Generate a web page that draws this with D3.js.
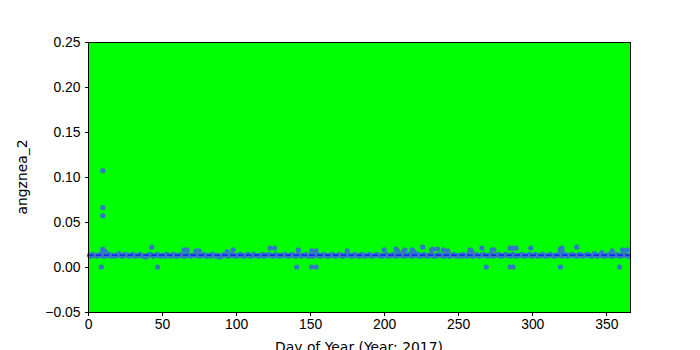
<!DOCTYPE html>
<head>
<meta charset="utf-8">
</head>
<style>
  body { margin: 0; background: #fff; }
  svg { display: block; font-family: "DejaVu Sans", sans-serif; }
  .axis path, .axis line { stroke: #000; shape-rendering: crispEdges; }
  .axis text { font-size: 13.9px; fill: #000; }
  .label { font-size: 13.9px; fill: #000; }
</style>
<body>
<script src="https://d3js.org/d3.v7.min.js"></script>
<script>

// daily values, index 0 = day 1 ... index 364 = day 365
var dailyValues = [
  0.013,0.012,0.014,0.013,0.013,0.012,0.013,0.014,0.013,0.013,
  0.012,0.013,0.013,0.014,0.012,0.013,0.013,0.012,0.013,0.013,
  0.015,0.013,0.012,0.013,0.014,0.013,0.013,0.012,0.013,0.014,
  0.013,0.012,0.013,0.013,0.014,0.013,0.012,0.012,0.011,0.013,
  0.013,0.014,0.013,0.012,0.013,0.013,0.014,0.013,0.012,0.013,
  0.013,0.012,0.014,0.013,0.013,0.012,0.013,0.014,0.013,0.012,
  0.013,0.013,0.014,0.013,0.012,0.013,0.014,0.013,0.012,0.013,
  0.013,0.014,0.013,0.013,0.012,0.013,0.013,0.014,0.013,0.012,
  0.013,0.013,0.012,0.014,0.013,0.013,0.012,0.013,0.011,0.012,
  0.013,0.014,0.013,0.013,0.012,0.013,0.014,0.013,0.013,0.012,
  0.013,0.013,0.014,0.013,0.012,0.013,0.013,0.014,0.013,0.012,
  0.013,0.014,0.013,0.013,0.012,0.013,0.013,0.014,0.012,0.013,
  0.013,0.014,0.013,0.013,0.012,0.013,0.014,0.013,0.012,0.013,
  0.013,0.013,0.014,0.013,0.012,0.013,0.013,0.014,0.013,0.012,
  0.013,0.014,0.013,0.012,0.013,0.013,0.014,0.013,0.012,0.013,
  0.013,0.012,0.013,0.014,0.013,0.013,0.012,0.013,0.014,0.013,
  0.013,0.012,0.013,0.013,0.014,0.013,0.012,0.013,0.013,0.014,
  0.013,0.012,0.013,0.013,0.014,0.013,0.013,0.012,0.013,0.014,
  0.013,0.013,0.012,0.013,0.014,0.013,0.012,0.013,0.013,0.014,
  0.013,0.012,0.013,0.013,0.014,0.013,0.013,0.012,0.013,0.013,
  0.014,0.013,0.012,0.013,0.013,0.014,0.013,0.012,0.013,0.015,
  0.013,0.014,0.013,0.012,0.013,0.013,0.014,0.013,0.012,0.013,
  0.015,0.013,0.014,0.012,0.013,0.013,0.014,0.013,0.012,0.013,
  0.013,0.014,0.013,0.012,0.013,0.013,0.014,0.013,0.013,0.012,
  0.013,0.014,0.013,0.012,0.013,0.013,0.014,0.013,0.012,0.013,
  0.013,0.012,0.014,0.013,0.013,0.012,0.014,0.013,0.013,0.012,
  0.013,0.014,0.013,0.012,0.013,0.013,0.014,0.013,0.013,0.012,
  0.013,0.014,0.013,0.012,0.013,0.013,0.014,0.013,0.012,0.013,
  0.013,0.014,0.013,0.013,0.012,0.013,0.014,0.013,0.012,0.013,
  0.013,0.013,0.014,0.013,0.012,0.013,0.013,0.014,0.013,0.012,
  0.013,0.014,0.013,0.012,0.013,0.013,0.014,0.013,0.012,0.013,
  0.013,0.014,0.013,0.013,0.012,0.013,0.013,0.014,0.013,0.012,
  0.013,0.014,0.013,0.012,0.013,0.013,0.014,0.013,0.013,0.012,
  0.013,0.014,0.013,0.012,0.013,0.013,0.014,0.013,0.013,0.012,
  0.013,0.015,0.013,0.012,0.013,0.013,0.014,0.013,0.012,0.013,
  0.013,0.014,0.013,0.012,0.013,0.013,0.014,0.013,0.012,0.013,
  0.013,0.014,0.013,0.013,0.012
]

// extra observations (outliers) away from the daily band
var extraDays = [
  9, 10, 10, 10, 10, 10, 11, 11, 12,
  43, 47, 65, 67, 73, 75, 94, 98,
  123, 126, 141, 142, 151, 151, 154, 154, 175,
  200, 208, 209, 213, 214, 219, 220, 226, 232, 233, 236, 240, 243,
  258, 258, 259, 259, 266, 269, 273, 274, 285, 285, 287, 287, 289,
  299, 319, 319, 319, 320, 320, 330, 347, 354, 359, 361, 364
]
var extraValues = [
  0.000, 0.107, 0.066, 0.057, 0.020, 0.019, 0.018, 0.017, 0.016,
  0.022, 0.000, 0.019, 0.019, 0.018, 0.018, 0.017, 0.019,
  0.021, 0.021, 0.000, 0.019, 0.000, 0.018, 0.000, 0.018, 0.018,
  0.019, 0.020, 0.018, 0.017, 0.019, 0.019, 0.017, 0.022, 0.019, 0.020, 0.020, 0.019, 0.018,
  0.019, 0.017, 0.018, 0.016, 0.021, 0.000, 0.019, 0.019, 0.000, 0.021, 0.000, 0.021, 0.021,
  0.021, 0.000, 0.020, 0.017, 0.021, 0.018, 0.022, 0.016, 0.018, 0.000, 0.019, 0.019
]

var meanValue = 0.0133

var xTicks = [0, 50, 100, 150, 200, 250, 300, 350]
var yTicks = [-0.05, 0.00, 0.05, 0.10, 0.15, 0.20, 0.25]

var margin = {top: 42, right: 70, bottom: 38, left: 88},
    width = 700 - margin.left - margin.right,
    height = 350 - margin.top - margin.bottom

var x = d3.scaleLinear().domain([0, 366]).range([0, width])
var y = d3.scaleLinear().domain([-0.05, 0.25]).range([height, 0])

var points = dailyValues.map(function(v, i) { return {day: i + 1, value: v} })
extraDays.forEach(function(d, i) { points.push({day: d, value: extraValues[i]}) })

var svg = d3.select("body").append("svg")
    .attr("width", 700)
    .attr("height", 350)

var g = svg.append("g")
    .attr("transform", "translate(" + margin.left + "," + margin.top + ")")

g.append("rect")
    .attr("width", width)
    .attr("height", height)
    .attr("fill", "#00ff00")

g.selectAll(".dot")
    .data(points)
  .enter().append("circle")
    .attr("class", "dot")
    .attr("cx", function(d) { return x(d.day) })
    .attr("cy", function(d) { return y(d.value) })
    .attr("r", 2.6)
    .attr("fill", "#3478c4")

g.append("line")
    .attr("x1", x(0))
    .attr("x2", x(366))
    .attr("y1", y(meanValue))
    .attr("y2", y(meanValue))
    .attr("stroke", "#1030e8")
    .attr("stroke-width", 1.8)
    .attr("stroke-dasharray", "5.5,2.4")

g.append("g")
    .attr("class", "x axis")
    .attr("transform", "translate(0," + height + ")")
    .call(d3.axisBottom(x).tickValues(xTicks).tickSize(3.5).tickPadding(4)
      .tickFormat(d3.format("d")))
    .select(".domain").remove()

g.append("g")
    .attr("class", "y axis")
    .call(d3.axisLeft(y).tickValues(yTicks).tickSize(3.5).tickPadding(4)
      .tickFormat(function(d) { return d3.format(".2f")(d).replace("-", "\u2212") }))
    .select(".domain").remove()

// frame
g.append("rect")
    .attr("width", width)
    .attr("height", height)
    .attr("fill", "none")
    .attr("stroke", "#000")
    .attr("stroke-width", 1)
    .attr("shape-rendering", "crispEdges")

svg.append("text")
    .attr("class", "label")
    .attr("x", margin.left + width / 2)
    .attr("y", 352)
    .attr("text-anchor", "middle")
    .text("Day of Year (Year: 2017)")

svg.append("text")
    .attr("class", "label")
    .attr("transform", "translate(27," + (margin.top + height / 2) + ") rotate(-90)")
    .attr("text-anchor", "middle")
    .text("angznea_2")

</script>
</body>
